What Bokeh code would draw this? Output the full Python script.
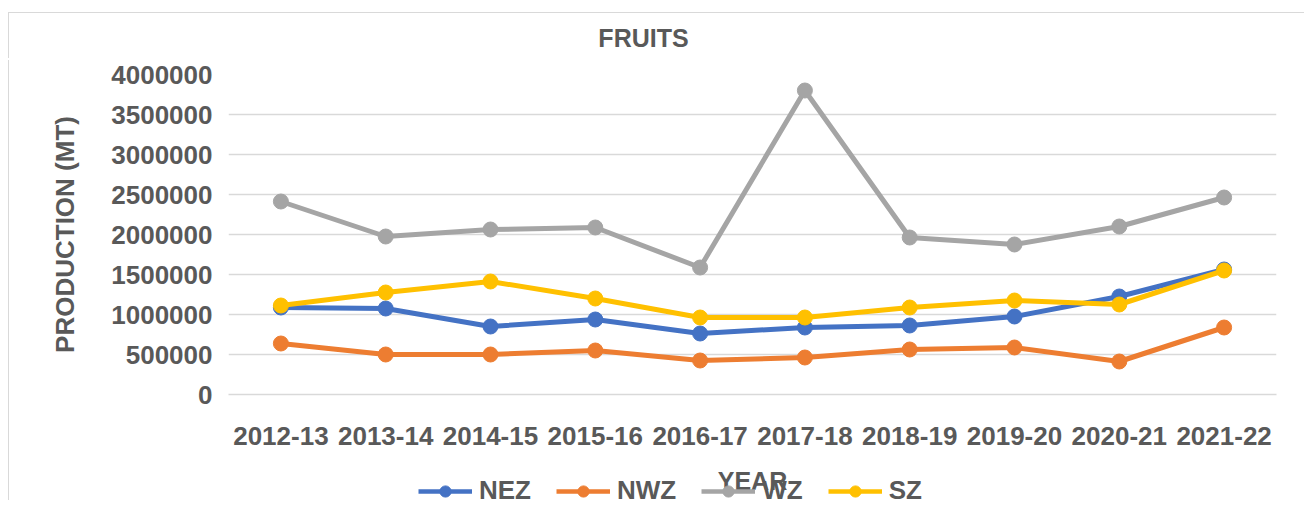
from bokeh.plotting import figure
from bokeh.layouts import column
from bokeh.models import FactorRange, Range1d, Legend, LegendItem, Label, BasicTickFormatter, SingleIntervalTicker
from bokeh.embed import file_html
from bokeh.resources import INLINE

years = ["2012-13", "2013-14", "2014-15", "2015-16", "2016-17",
         "2017-18", "2018-19", "2019-20", "2020-21", "2021-22"]
nez = [1087500, 1075000, 850000, 937500, 762500, 837500, 862500, 975000, 1225000, 1562500]
nwz = [637500, 500000, 500000, 550000, 425000, 462500, 562500, 587500, 412500, 837500]
wz = [2412500, 1975000, 2062500, 2087500, 1587500, 3800000, 1962500, 1875000, 2100000, 2462500]
sz = [1112500, 1275000, 1412500, 1200000, 962500, 962500, 1087500, 1175000, 1125000, 1550000]

series = [("NEZ", nez, "#4472C4"), ("NWZ", nwz, "#ED7D31"), ("WZ", wz, "#A5A5A5"), ("SZ", sz, "#FFC000")]

TXT = "#595959"
FONT = "Liberation Sans"

# title strip (top of the chart box)
ttl = figure(width=1296, height=46, output_backend="svg", toolbar_location=None,
             x_range=FactorRange(factors=years), y_range=Range1d(0, 1),
             min_border_left=219, min_border_right=29, min_border_top=0, min_border_bottom=0,
             styles={"margin-top": "12px", "margin-left": "8px",
                     "border-top": "1px solid #D9D9D9", "border-left": "1px solid #D9D9D9"})
ttl.axis.visible = False
ttl.grid.visible = False
ttl.outline_line_color = None
ttl.background_fill_color = "white"
ttl.border_fill_color = "white"
ttl.add_layout(Label(x=415, y=22, x_units="screen", y_units="screen", text="FRUITS",
                     text_font=FONT, text_font_size="25px", text_font_style="bold",
                     text_color=TXT, text_align="center", text_baseline="middle"))

p = figure(x_range=FactorRange(factors=years), y_range=Range1d(0, 4000000),
           width=1296, height=440, output_backend="svg", toolbar_location=None,
           min_border_left=219, min_border_right=29, min_border_top=14, min_border_bottom=106,
           styles={"margin-top": "2px", "margin-left": "8px", "border-left": "1px solid #D9D9D9"})
p.outline_line_color = None
p.background_fill_color = "white"
p.border_fill_color = "white"

for name, vals, col in series:
    p.line(years, vals, line_color=col, line_width=5)
    p.scatter(years, vals, size=15, fill_color=col, line_color=col)

p.xgrid.grid_line_color = None
p.ygrid.grid_line_color = "#D9D9D9"
p.ygrid.grid_line_width = 1.5

p.yaxis.ticker = SingleIntervalTicker(interval=500000)
p.yaxis.formatter = BasicTickFormatter(use_scientific=False)
p.yaxis.axis_line_color = None
p.yaxis.major_tick_line_color = None
p.yaxis.minor_tick_line_color = None
p.yaxis.major_label_standoff = 10
p.yaxis.axis_label = "PRODUCTION (MT)"
p.yaxis.axis_label_standoff = 28
for ax in (p.xaxis[0], p.yaxis[0]):
    ax.major_label_text_font = FONT
    ax.major_label_text_font_size = "26px"
    ax.major_label_text_font_style = "bold"
    ax.major_label_text_color = TXT
    ax.axis_label_text_font = FONT
    ax.axis_label_text_font_size = "26px"
    ax.axis_label_text_font_style = "bold"
    ax.axis_label_text_color = TXT

p.xaxis.axis_line_color = "#D9D9D9"
p.xaxis.axis_line_width = 1.5
p.xaxis.major_tick_line_color = None
p.xaxis.minor_tick_line_color = None
p.xaxis.major_label_standoff = 26
p.xaxis.axis_label = "YEAR"
p.xaxis.axis_label_standoff = 19
p.xaxis.axis_label_text_font_size = "25px"

# legend strip, overlapping the bottom of the chart like the original
lg = figure(width=1296, height=32, output_backend="svg", toolbar_location=None,
            x_range=FactorRange(factors=years), y_range=Range1d(0, 1),
            min_border_left=0, min_border_right=0, min_border_top=0, min_border_bottom=0,
            styles={"margin-top": "-26px", "margin-left": "9px"})
lg.axis.visible = False
lg.grid.visible = False
lg.outline_line_color = None
lg.background_fill_alpha = 0
lg.border_fill_alpha = 0
items = []
for name, vals, col in series:
    # same series, out of this strip's view: only their legend glyphs show
    l = lg.line(years, vals, line_color=col, line_width=4.5)
    s = lg.scatter(years, vals, size=14, fill_color=col, line_color=col)
    items.append(LegendItem(label=name, renderers=[l, s]))
legend = Legend(items=items, orientation="horizontal", location=(190, 0),
                padding=0, margin=0, spacing=25, glyph_width=54, glyph_height=28,
                label_standoff=7, label_text_font=FONT, label_text_font_size="26px",
                label_text_font_style="bold", label_text_color=TXT,
                background_fill_alpha=0, border_line_alpha=0)
lg.add_layout(legend)

open("out.html", "w").write(file_html(column(ttl, p, lg), INLINE))
